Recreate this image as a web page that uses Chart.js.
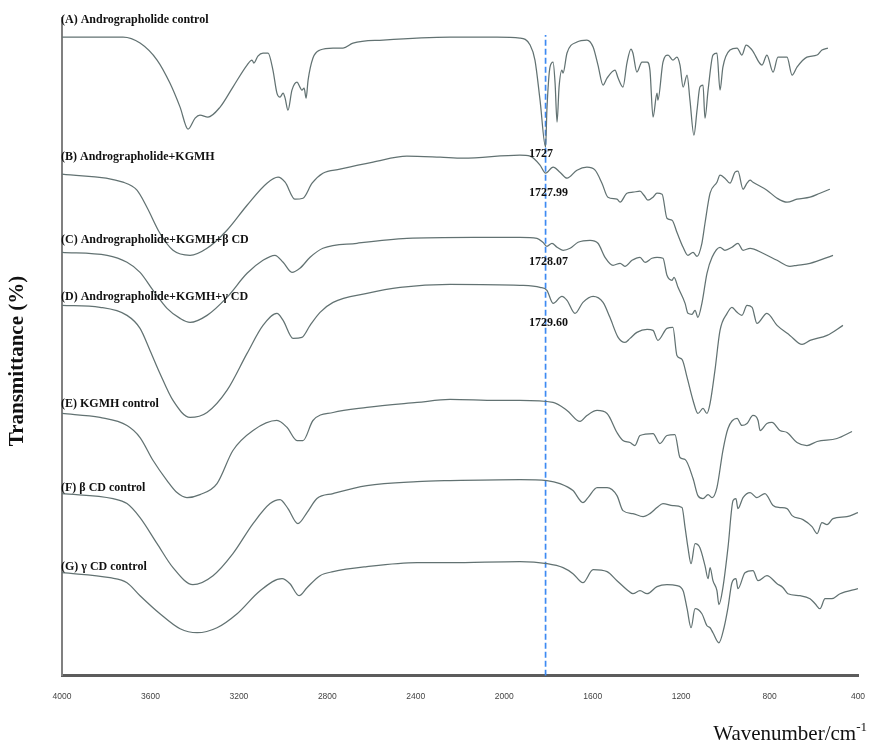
<!DOCTYPE html>
<html lang="en">
<head>
<meta charset="utf-8" />
<title>FTIR spectra</title>
<script src="https://cdn.jsdelivr.net/npm/chart.js@4.4.1/dist/chart.umd.min.js"></script>
<style>
  html, body { margin: 0; padding: 0; background: #fff; }
  canvas { display: block; }
</style>
</head>
<body>
<canvas id="ftir" width="869" height="742"></canvas>
<script>
// Wavenumber (cm-1) and offset transmittance for every sample, stacked top to bottom
const wnA = [4000,3724,3647,3570,3512,3466,3430,3398,3376,3340,3285,3227,3163,3141,3132,3114,3091,3068,3046,3028,3014,3000,2991,2978,2960,2937,2924,2915,2905,2896,2887,2865,2833,2774,2729,2684,2548,2245,2033,1929,1883,1861,1838,1813,1807,1793,1779,1770,1761,1752,1739,1734,1716,1671,1626,1598,1576,1553,1535,1499,1485,1463,1445,1427,1418,1400,1377,1354,1341,1327,1309,1305,1282,1259,1237,1219,1205,1191,1173,1160,1142,1128,1115,1101,1092,1078,1056,1038,1024,1011,979,947,925,906,879,834,812,784,762,721,698,676,631,585,563,536];
const tA = [63.8,63.8,63.2,61.5,59.2,56.8,54.6,55.7,56.0,55.8,56.8,58.8,61.0,61.5,61.2,61.9,62.2,62.2,60.5,58.2,57.8,58.2,57.7,56.5,58.5,59.3,58.8,58.5,58.7,57.7,59.5,61.7,62.5,62.7,62.7,63.2,63.5,63.8,63.8,63.7,63.0,61.5,57.5,52.8,56.5,60.8,61.3,59.2,55.3,58.8,60.5,60.2,62.2,63.3,63.5,62.8,61.0,59.0,59.7,60.5,59.7,58.8,61.2,62.6,62.2,60.3,61.3,61.3,60.5,55.8,58.2,57.5,61.3,62.0,61.5,61.8,61.0,58.8,60.0,57.5,54.0,56.5,58.8,59.0,55.7,58.5,62.0,62.2,58.5,60.8,62.5,62.7,62.0,63.0,62.5,61.0,62.0,60.3,61.8,61.8,60.0,60.8,61.8,62.0,62.5,62.7];

const wnB = [4000,3724,3661,3616,3557,3498,3421,3344,3254,3163,3073,3023,2991,2946,2910,2869,2820,2743,2593,2440,2290,2186,1929,1883,1838,1813,1779,1748,1716,1671,1626,1589,1558,1531,1490,1476,1445,1418,1386,1368,1350,1327,1309,1286,1264,1241,1219,1191,1169,1146,1128,1106,1092,1069,1038,1024,1002,979,956,943,920,902,888,875,812,766,721,676,617,572,527];
const tB = [50.1,49.3,48.5,46.8,44.2,42.5,42.0,42.7,44.5,47.0,49.2,49.8,49.3,47.6,47.7,49.2,50.2,50.6,51.3,51.9,51.8,51.7,52.0,51.9,51.0,50.2,50.8,50.3,49.7,50.5,50.8,50.5,49.2,47.8,47.6,47.3,48.2,48.3,48.4,48.0,47.5,47.8,48.2,48.1,45.7,45.5,44.3,42.8,42.0,42.3,41.9,43.2,45.2,48.2,49.3,50.0,49.7,49.2,50.3,50.4,48.6,49.2,49.5,49.3,48.5,47.7,47.3,47.6,47.8,48.2,48.6];

const wnC = [4000,3796,3706,3647,3588,3525,3466,3421,3344,3254,3163,3091,3037,3000,2960,2924,2878,2820,2666,2440,2141,1929,1852,1825,1807,1784,1761,1734,1702,1666,1612,1576,1544,1508,1476,1454,1422,1386,1363,1332,1309,1282,1264,1241,1232,1214,1182,1169,1151,1137,1124,1106,1083,1060,1024,1002,970,943,920,888,830,766,708,676,617,513];
const tC = [42.3,42.0,41.3,40.3,38.5,36.7,35.7,35.3,36.0,37.8,40.2,41.5,42.0,41.3,40.3,40.7,41.8,42.7,43.2,43.7,43.8,43.8,43.7,43.3,42.9,43.2,42.8,42.5,42.7,43.3,43.5,43.2,41.8,41.0,41.2,40.9,41.5,41.8,41.3,41.7,41.8,41.7,40.0,39.5,39.8,38.8,37.2,36.2,36.1,36.5,35.8,37.2,40.2,41.8,42.8,42.5,42.8,43.2,42.5,42.7,42.2,41.5,40.9,41.0,41.2,42.0];

const wnD = [4000,3828,3706,3647,3602,3557,3498,3421,3344,3254,3163,3091,3028,3000,2955,2915,2878,2833,2774,2621,2471,2245,1929,1838,1807,1779,1739,1716,1680,1644,1598,1553,1522,1485,1454,1431,1400,1354,1327,1305,1264,1237,1219,1196,1173,1146,1124,1101,1083,1069,1047,1024,992,970,947,925,902,879,857,812,766,708,653,617,540,468];
const tD = [37.0,36.8,36.0,34.7,32.5,30.2,27.5,25.8,26.3,28.5,32.2,35.0,36.2,35.5,33.7,33.8,35.0,36.3,37.3,38.2,38.8,39.1,39.0,38.8,38.5,37.2,37.9,37.5,36.2,37.3,37.9,37.3,35.8,33.8,33.3,33.7,34.3,34.6,34.5,33.5,34.7,34.8,32.0,31.6,29.8,27.5,26.2,26.7,26.2,27.2,30.5,34.5,36.2,36.8,36.3,36.0,37.0,36.8,35.2,36.2,35.0,34.0,33.1,33.5,34.0,35.0];

const wnE = [4000,3828,3706,3647,3588,3525,3480,3435,3376,3299,3227,3136,3028,2982,2937,2910,2865,2774,2621,2394,2245,2033,1929,1779,1716,1657,1626,1580,1535,1490,1463,1431,1409,1386,1327,1296,1264,1228,1205,1182,1146,1124,1101,1078,1060,1038,1011,988,947,925,902,875,852,843,812,789,753,721,676,631,585,495,427];
const tE = [26.2,25.8,25.0,23.8,21.5,19.5,18.3,17.8,18.1,19.2,22.5,24.5,25.5,24.8,23.5,23.5,25.5,26.3,26.8,27.3,27.6,27.5,27.5,27.3,26.5,25.4,26.0,26.5,26.2,24.3,23.5,23.3,23.0,24.0,24.2,23.2,24.0,24.1,21.8,21.6,19.7,18.0,17.7,18.1,17.8,18.8,22.5,24.7,25.7,25.0,25.2,26.0,25.5,24.5,25.2,25.3,24.5,24.3,23.3,23.0,23.4,23.7,24.4];

const wnF = [4000,3769,3706,3647,3570,3498,3408,3317,3227,3136,3059,3014,2978,2933,2892,2847,2774,2621,2394,2245,1929,1807,1748,1689,1644,1621,1580,1535,1490,1463,1418,1372,1341,1309,1282,1237,1196,1182,1169,1155,1137,1115,1092,1078,1069,1056,1038,1029,1011,988,965,952,943,920,888,857,821,784,753,721,698,649,608,585,563,540,513,450,400];
const tF = [18.2,17.7,17.2,15.8,13.2,10.8,9.1,10.0,12.2,15.2,17.2,17.6,16.7,15.2,16.3,17.7,18.2,19.0,19.4,19.5,19.6,19.5,19.2,18.5,17.3,17.8,18.8,18.8,18.0,16.5,16.2,15.9,16.2,16.8,17.2,17.0,16.8,14.8,12.8,11.2,13.2,12.8,11.0,9.7,10.8,9.5,8.5,7.1,8.8,12.8,17.5,17.7,16.7,17.8,18.3,17.8,18.2,17.0,16.8,16.7,16.0,15.6,14.9,14.2,15.3,15.1,15.7,15.9,16.3];

const wnG = [4000,3783,3706,3647,3557,3466,3389,3299,3208,3104,3005,2969,2928,2892,2833,2774,2621,2394,2245,1929,1807,1734,1689,1644,1598,1535,1490,1445,1418,1386,1354,1309,1264,1219,1191,1173,1155,1137,1106,1083,1069,1056,1029,1006,988,970,952,943,911,875,852,812,766,739,717,662,617,594,572,549,518,481,400];
const tG = [10.3,9.8,9.3,8.0,6.2,4.7,4.3,4.8,6.2,8.5,9.7,9.2,8.0,8.8,10.0,10.4,10.9,11.3,11.3,11.4,11.2,10.8,10.2,9.3,10.6,10.4,9.5,8.6,8.2,8.5,8.2,8.9,9.1,9.0,8.5,6.7,4.8,6.7,6.2,5.0,4.8,4.3,3.3,4.8,6.8,9.3,9.7,8.7,10.3,10.5,9.5,10.0,9.2,8.8,8.2,8.0,7.7,7.2,6.7,7.7,7.7,8.2,8.7];

// Sample names and the level each one is written at
const sampleNames = [
  '(A) Andrographolide control',
  '(B) Andrographolide+KGMH',
  '(C) Andrographolide+KGMH+β CD',
  '(D) Andrographolide+KGMH+γ CD',
  '(E) KGMH control',
  '(F) β CD control',
  '(G) γ CD control'
];
const nameLevels = [65.5, 51.8, 43.5, 37.8, 27.2, 18.8, 10.9];

// Carbonyl band marker and its peak readings
const markerWavenumber = 1813;
const markerTop = 64;
const peakTexts = ['1727', '1727.99', '1728.07', '1729.60'];
const peakTextLevels = [52.1, 48.2, 41.3, 35.2];
const peakTextWavenumber = 1888;

// Axis range (cm-1)
const wnMin = 400;
const wnMax = 4000;
const wnStep = 400;

const series = [[wnA, tA], [wnB, tB], [wnC, tC], [wnD, tD], [wnE, tE], [wnF, tF], [wnG, tG]];

const datasets = series.map(([wn, t]) => ({
  data: wn.map((w, i) => ({ x: w, y: t[i] })),
  borderColor: '#627272',
  borderWidth: 1.25,
  pointRadius: 0,
  cubicInterpolationMode: 'monotone'
}));

datasets.push({
  data: [{ x: markerWavenumber, y: 0 }, { x: markerWavenumber, y: markerTop }],
  borderColor: '#3d8af2',
  borderWidth: 1.7,
  borderDash: [6, 3],
  pointRadius: 0
});

// Names, peak readings and axis titles drawn on top of the spectra
const textPlugin = {
  id: 'ftirText',
  afterDraw(chart) {
    const { ctx, scales: { x, y } } = chart;
    ctx.save();
    ctx.fillStyle = '#111';
    ctx.textAlign = 'left';
    ctx.textBaseline = 'middle';
    ctx.font = 'bold 12px "Liberation Serif"';
    sampleNames.forEach((name, i) => {
      ctx.fillText(name, x.getPixelForValue(wnMax) - 1, y.getPixelForValue(nameLevels[i]));
    });
    peakTexts.forEach((txt, i) => {
      ctx.fillText(txt, x.getPixelForValue(peakTextWavenumber), y.getPixelForValue(peakTextLevels[i]));
    });

    // vertical title
    ctx.save();
    ctx.translate(18, 361);
    ctx.rotate(-Math.PI / 2);
    ctx.textAlign = 'center';
    ctx.font = 'bold 21px "Liberation Serif"';
    ctx.fillText('Transmittance (%)', 0, 0);
    ctx.restore();

    // horizontal title with superscript
    ctx.textBaseline = 'alphabetic';
    ctx.font = '13px "Liberation Serif"';
    const supW = ctx.measureText('-1').width;
    ctx.font = '21px "Liberation Serif"';
    const mainW = ctx.measureText('Wavenumber/cm').width;
    const right = 867;
    const base = 740;
    ctx.fillText('Wavenumber/cm', right - supW - mainW, base);
    ctx.font = '13px "Liberation Serif"';
    ctx.fillText('-1', right - supW, base - 9);
    ctx.restore();
  }
};

new Chart(document.getElementById('ftir').getContext('2d'), {
  type: 'line',
  data: { datasets },
  options: {
    responsive: false,
    animation: false,
    layout: { padding: { left: 62, right: 11, top: 18, bottom: 38 } },
    plugins: {
      legend: { display: false },
      tooltip: { enabled: false }
    },
    scales: {
      x: {
        type: 'linear',
        reverse: true,
        min: wnMin,
        max: wnMax,
        // tick marks hidden, their length only pushes the labels down
        grid: { display: false, drawTicks: true, tickLength: 14 },
        border: { display: true, color: '#5c5c5c', width: 3 },
        ticks: {
          stepSize: wnStep,
          autoSkip: false,
          maxRotation: 0,
          padding: 2,
          color: '#444',
          format: { useGrouping: false },
          font: { family: '"Liberation Sans", Arial, sans-serif', size: 8.5 }
        }
      },
      y: {
        type: 'linear',
        min: 0,
        max: 65.7,
        grid: { display: false, drawTicks: false },
        border: { display: true, color: '#808080', width: 2 },
        ticks: { display: false }
      }
    }
  },
  plugins: [textPlugin]
});
</script>
</body>
</html>
